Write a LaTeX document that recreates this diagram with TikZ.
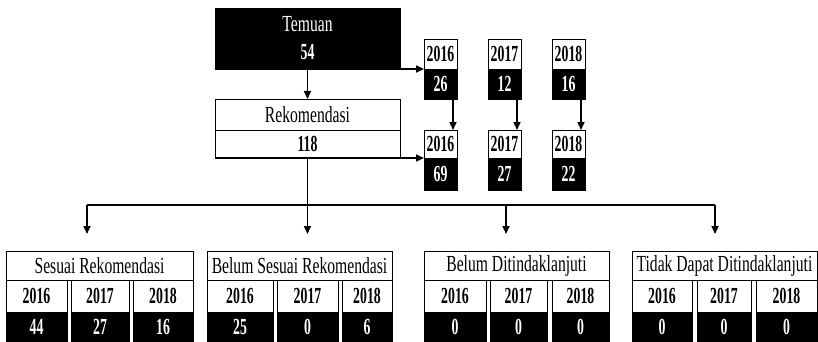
\documentclass[tikz,border=0pt]{standalone}
\usepackage{fontspec}
\setmainfont{Liberation Serif}[FakeStretch=0.68]
\newfontfamily\numfont{Liberation Serif Bold}[FakeStretch=0.6]
\usetikzlibrary{arrows.meta}

\newcommand{\dgmsize}{\fontsize{23}{28}\selectfont}

\begin{document}
\begin{tikzpicture}[
  x=1pt, y=-1pt,
  cell/.style={draw, line width=0.8pt, inner sep=0pt, outer sep=0pt,
    fill=white, align=center, font=\dgmsize\numfont},
  val/.style={cell, fill=black, text=white},
  hd/.style={cell, font=\dgmsize},
  arr/.style={-{Triangle[length=8pt,width=7pt]}, line width=1.6pt},
  ln/.style={line width=1.6pt}
]
  \useasboundingbox (0,0) rectangle (818,342);

  % temuan and rekomendasi
  \node[val, font=\dgmsize, minimum width=185pt, minimum height=61pt] (tem)
    at (307.5,38.5) {Temuan\\{\numfont 54}};
  \node[hd, minimum width=185pt, minimum height=31pt] (rek) at (307.5,114.5) {Rekomendasi};
  \node[cell, minimum width=185pt, minimum height=28pt] (rekv) at (307.5,144) {118};

  % temuan per year
  \node[cell, minimum width=33pt, minimum height=30pt] (ty16) at (440.5,54) {2016};
  \node[val, minimum width=33pt, minimum height=30pt] (tv16) at (440.5,84) {26};
  \node[cell, minimum width=33pt, minimum height=30pt] (ty17) at (504.5,54) {2017};
  \node[val, minimum width=33pt, minimum height=30pt] (tv17) at (504.5,84) {12};
  \node[cell, minimum width=33pt, minimum height=30pt] (ty18) at (568.5,54) {2018};
  \node[val, minimum width=33pt, minimum height=30pt] (tv18) at (568.5,84) {16};

  % rekomendasi per year
  \node[cell, minimum width=33pt, minimum height=28pt] (ry16) at (440.5,144) {2016};
  \node[val, minimum width=33pt, minimum height=32pt] (rv16) at (440.5,174) {69};
  \node[cell, minimum width=33pt, minimum height=28pt] (ry17) at (504.5,144) {2017};
  \node[val, minimum width=33pt, minimum height=32pt] (rv17) at (504.5,174) {27};
  \node[cell, minimum width=33pt, minimum height=28pt] (ry18) at (568.5,144) {2018};
  \node[val, minimum width=33pt, minimum height=32pt] (rv18) at (568.5,174) {22};

  % sesuai rekomendasi
  \node[hd, minimum width=187pt, minimum height=29pt] (g1) at (99.5,265.5) {Sesuai Rekomendasi};
  \node[cell, minimum width=61pt, minimum height=32pt] (g1y16) at (36.5,296) {2016};
  \node[cell, minimum width=58pt, minimum height=32pt] (g1y17) at (100,296) {2017};
  \node[cell, minimum width=60pt, minimum height=32pt] (g1y18) at (163,296) {2018};
  \node[val, minimum width=61pt, minimum height=29pt] (g1v16) at (36.5,326.5) {44};
  \node[val, minimum width=58pt, minimum height=29pt] (g1v17) at (100,326.5) {27};
  \node[val, minimum width=60pt, minimum height=29pt] (g1v18) at (163,326.5) {16};

  % belum sesuai rekomendasi
  \node[hd, minimum width=185pt, minimum height=29pt] (g2) at (299.5,265.5) {Belum Sesuai Rekomendasi};
  \node[cell, minimum width=66pt, minimum height=32pt] (g2y16) at (240,296) {2016};
  \node[cell, minimum width=61pt, minimum height=32pt] (g2y17) at (307.5,296) {2017};
  \node[cell, minimum width=50pt, minimum height=32pt] (g2y18) at (367,296) {2018};
  \node[val, minimum width=66pt, minimum height=29pt] (g2v16) at (240,326.5) {25};
  \node[val, minimum width=61pt, minimum height=29pt] (g2v17) at (307.5,326.5) {0};
  \node[val, minimum width=50pt, minimum height=29pt] (g2v18) at (367,326.5) {6};

  % belum ditindaklanjuti
  \node[hd, minimum width=185pt, minimum height=29pt] (g3) at (516.5,265.5) {Belum Ditindaklanjuti};
  \node[cell, minimum width=62pt, minimum height=32pt] (g3y16) at (455,296) {2016};
  \node[cell, minimum width=57pt, minimum height=32pt] (g3y17) at (518.5,296) {2017};
  \node[cell, minimum width=57pt, minimum height=32pt] (g3y18) at (580.5,296) {2018};
  \node[val, minimum width=62pt, minimum height=29pt] (g3v16) at (455,326.5) {0};
  \node[val, minimum width=57pt, minimum height=29pt] (g3v17) at (518.5,326.5) {0};
  \node[val, minimum width=57pt, minimum height=29pt] (g3v18) at (580.5,326.5) {0};

  % tidak dapat ditindaklanjuti
  \node[hd, minimum width=185pt, minimum height=29pt] (g4) at (724.5,265.5) {Tidak Dapat Ditindaklanjuti};
  \node[cell, minimum width=60pt, minimum height=32pt] (g4y16) at (662,296) {2016};
  \node[cell, minimum width=54pt, minimum height=32pt] (g4y17) at (724,296) {2017};
  \node[cell, minimum width=61pt, minimum height=32pt] (g4y18) at (786.5,296) {2018};
  \node[val, minimum width=60pt, minimum height=29pt] (g4v16) at (662,326.5) {0};
  \node[val, minimum width=54pt, minimum height=29pt] (g4v17) at (724,326.5) {0};
  \node[val, minimum width=61pt, minimum height=29pt] (g4v18) at (786.5,326.5) {0};

  % branch points
  \coordinate (j1) at (87,205);
  \coordinate (j3) at (506,205);
  \coordinate (j4) at (715,205);
  \coordinate (d1) at (87,234);
  \coordinate (d2) at (307.5,234);
  \coordinate (d3) at (506,234);
  \coordinate (d4) at (715,234);

  \draw[arr] (tem.south) -- (rek.north);
  \draw[arr] (tem.south east) -- (ty16.south west);
  \draw[arr] (rekv.south west) -- (ry16.south west);
  \draw[arr] ([xshift=-4pt]tv16.south east) -- ([xshift=-4pt]ry16.north east);
  \draw[arr] ([xshift=-4pt]tv17.south east) -- ([xshift=-4pt]ry17.north east);
  \draw[arr] ([xshift=-4pt]tv18.south east) -- ([xshift=-4pt]ry18.north east);
  \draw[ln] (j1) -- (j4);
  \draw[arr] (rekv.south) -- (d2);
  \draw[arr] (j1) -- (d1);
  \draw[arr] (j3) -- (d3);
  \draw[arr] (j4) -- (d4);
\end{tikzpicture}
\end{document}
